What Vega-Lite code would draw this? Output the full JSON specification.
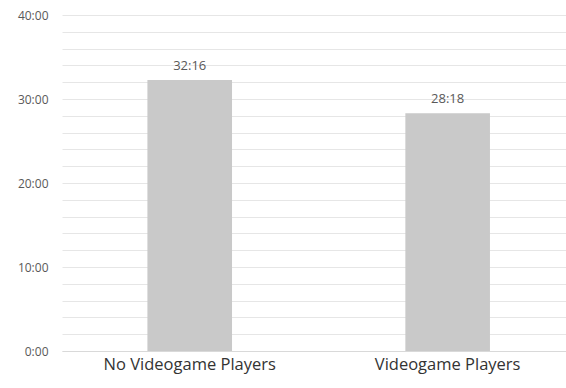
{
  "$schema": "https://vega.github.io/schema/vega-lite/v6.json",
  "width": 504,
  "height": 336,
  "autosize": {"type": "none"},
  "padding": {"left": 62, "top": 15, "right": 0, "bottom": 37},
  "background": "white",
  "config": {"view": {"stroke": null}, "font": "Open Sans"},
  "data": {
    "values": [
      {"group": "No Videogame Players", "seconds": 1936},
      {"group": "Videogame Players", "seconds": 1698}
    ]
  },
  "transform": [
    {
      "calculate": "floor(datum.seconds / 60) + ':' + (datum.seconds % 60 < 10 ? '0' : '') + (datum.seconds % 60)",
      "as": "label"
    }
  ],
  "encoding": {
    "x": {
      "field": "group",
      "type": "nominal",
      "sort": null,
      "scale": {"paddingInner": 0.672, "paddingOuter": 0.313, "align": 0.529},
      "axis": {
        "title": null,
        "labelAngle": 0,
        "ticks": false,
        "grid": false,
        "domainColor": "#d9d9d9",
        "domainWidth": 1,
        "labelFontSize": 16.5,
        "labelColor": "#333333",
        "labelPadding": 5
      }
    },
    "y": {
      "field": "seconds",
      "type": "quantitative",
      "scale": {"domain": [0, 2400], "nice": false},
      "axis": {
        "title": null,
        "values": [0, 120, 240, 360, 480, 600, 720, 840, 960, 1080, 1200, 1320, 1440, 1560, 1680, 1800, 1920, 2040, 2160, 2280, 2400],
        "labelExpr": "datum.value % 600 == 0 ? (datum.value / 60) + ':00' : ''",
        "labelOverlap": false,
        "domain": false,
        "ticks": false,
        "gridColor": "#e6e6e6",
        "gridWidth": 1,
        "labelFontSize": 12,
        "labelColor": "#595959",
        "labelPadding": 14
      }
    }
  },
  "layer": [
    {"mark": {"type": "bar", "color": "#c9c9c9"}},
    {
      "mark": {"type": "text", "baseline": "bottom", "dy": -7, "fontSize": 13, "color": "#595959"},
      "encoding": {"text": {"field": "label"}}
    }
  ]
}
